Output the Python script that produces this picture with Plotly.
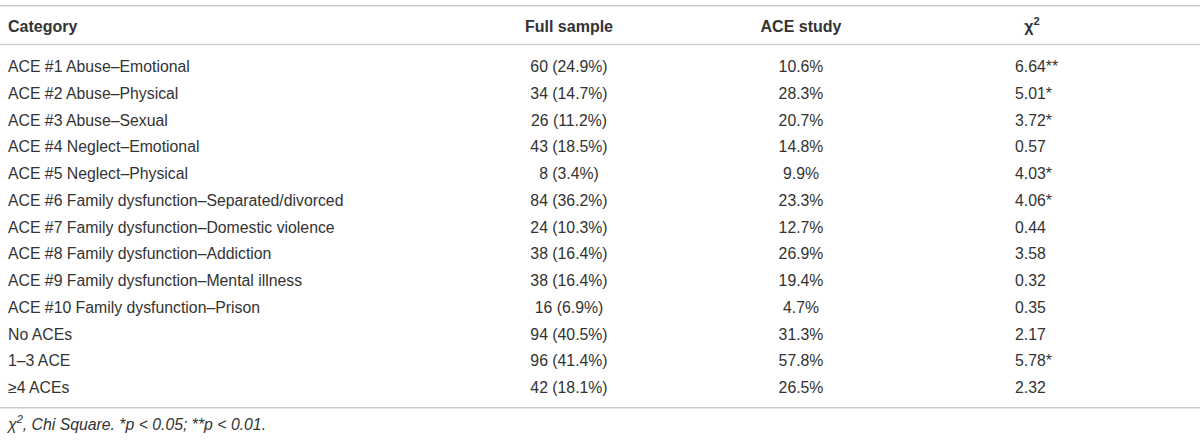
import plotly.graph_objects as go

categories = [
    "ACE #1 Abuse–Emotional",
    "ACE #2 Abuse–Physical",
    "ACE #3 Abuse–Sexual",
    "ACE #4 Neglect–Emotional",
    "ACE #5 Neglect–Physical",
    "ACE #6 Family dysfunction–Separated/divorced",
    "ACE #7 Family dysfunction–Domestic violence",
    "ACE #8 Family dysfunction–Addiction",
    "ACE #9 Family dysfunction–Mental illness",
    "ACE #10 Family dysfunction–Prison",
    "No ACEs",
    "1–3 ACE",
    "≥4 ACEs",
]
full_n = [60, 34, 26, 43, 8, 84, 24, 38, 38, 16, 94, 96, 42]
full_pct = [24.9, 14.7, 11.2, 18.5, 3.4, 36.2, 10.3, 16.4, 16.4, 6.9, 40.5, 41.4, 18.1]
ace_study_pct = [10.6, 28.3, 20.7, 14.8, 9.9, 23.3, 12.7, 26.9, 19.4, 4.7, 31.3, 57.8, 26.5]
chi_sq = [6.64, 5.01, 3.72, 0.57, 4.03, 4.06, 0.44, 3.58, 0.32, 0.35, 2.17, 5.78, 2.32]
chi_sig = ["**", "*", "*", "", "*", "*", "", "", "", "", "", "*", ""]
headers = ["Category", "Full sample", "ACE study", "χ<sup>2</sup>"]
footnote = "<i>χ<sup>2</sup>, Chi Square. *p < 0.05; **p < 0.01.</i>"

FONT = "Liberation Sans, Arial, Helvetica, sans-serif"
TXT = "#333333"
LINE = "#cccccc"
FS = 15.8
HFS = 16

rows = list(range(len(categories)))
fig = go.Figure()

x_cat, x_full, x_ace, x_chi, x_chi_head = 8, 569, 801, 1015, 1032
dy = 0.08  # small vertical nudge of text relative to rows

def txt(x, y, text, pos, size=FS):
    fig.add_trace(go.Scatter(x=x, y=[v + dy for v in y], mode="text", text=text, textposition=pos,
                             textfont=dict(family=FONT, size=size, color=TXT), hoverinfo="skip"))

txt([x_cat] * len(rows), rows, categories, "middle right")
txt([x_full] * len(rows), rows, [f"{n} ({p:.1f}%)" for n, p in zip(full_n, full_pct)], "middle center")
txt([x_ace] * len(rows), rows, [f"{p:.1f}%" for p in ace_study_pct], "middle center")
txt([x_chi] * len(rows), rows, [f"{c:.2f}{s}" for c, s in zip(chi_sq, chi_sig)], "middle right")

hy = -1.514
txt([x_cat], [hy], [f"<b>{headers[0]}</b>"], "middle right", HFS)
txt([x_full, x_ace, x_chi_head], [hy] * 3, [f"<b>{h}</b>" for h in headers[1:]], "middle center", HFS)
txt([x_cat], [13.383], [footnote], "middle right")

for yl in [-2.254, -0.804, 12.774]:
    fig.add_shape(type="line", x0=0, x1=1200, y0=yl, y1=yl, xref="x", yref="y",
                  line=dict(color=LINE, width=1.5))

fig.update_layout(
    width=1200, height=441, margin=dict(l=0, r=0, t=0, b=0),
    paper_bgcolor="white", plot_bgcolor="white", showlegend=False,
    xaxis=dict(range=[0, 1200], visible=False, fixedrange=True),
    yaxis=dict(range=[14.019, -2.467], visible=False, fixedrange=True),
)
fig.write_html("out.html", config={"displayModeBar": False},
               post_script="document.body.style.margin='0';document.body.style.padding='0';")
